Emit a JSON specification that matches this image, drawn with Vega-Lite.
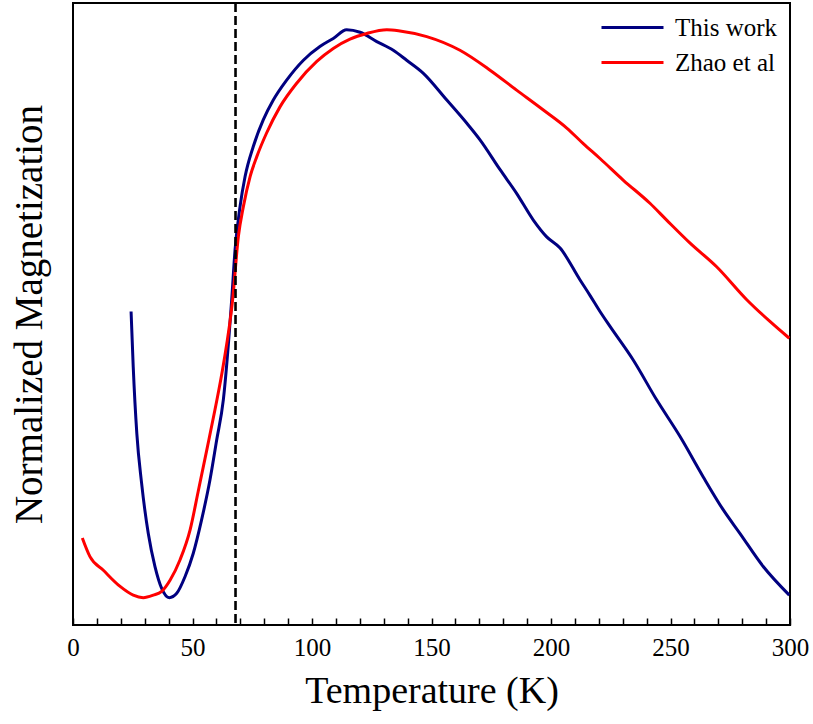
{
  "$schema": "https://vega.github.io/schema/vega-lite/v6.json",
  "width": 717,
  "height": 622,
  "autosize": {"type": "none"},
  "padding": {"left": 73, "top": 3, "right": 23, "bottom": 99},
  "background": "white",
  "config": {
    "view": {"stroke": "black", "strokeWidth": 2},
    "font": "Liberation Serif",
    "axis": {"grid": false, "labelFont": "Liberation Serif", "titleFont": "Liberation Serif"},
    "legend": {"labelFont": "Liberation Serif"}
  },
  "datasets": {
    "curves": [
      {"s": "This work", "T": 24.3, "M": 0.504},
      {"s": "This work", "T": 25.2, "M": 0.415},
      {"s": "This work", "T": 26.7, "M": 0.308},
      {"s": "This work", "T": 28.7, "M": 0.228},
      {"s": "This work", "T": 31.5, "M": 0.147},
      {"s": "This work", "T": 34.3, "M": 0.094},
      {"s": "This work", "T": 37.1, "M": 0.059},
      {"s": "This work", "T": 40.3, "M": 0.044},
      {"s": "This work", "T": 43.4, "M": 0.051},
      {"s": "This work", "T": 46.9, "M": 0.078},
      {"s": "This work", "T": 50.3, "M": 0.115},
      {"s": "This work", "T": 53.8, "M": 0.169},
      {"s": "This work", "T": 57.3, "M": 0.233},
      {"s": "This work", "T": 60.1, "M": 0.297},
      {"s": "This work", "T": 62.9, "M": 0.362},
      {"s": "This work", "T": 66.4, "M": 0.523},
      {"s": "This work", "T": 67.8, "M": 0.603},
      {"s": "This work", "T": 69.9, "M": 0.673},
      {"s": "This work", "T": 72.0, "M": 0.721},
      {"s": "This work", "T": 75.4, "M": 0.769},
      {"s": "This work", "T": 79.6, "M": 0.812},
      {"s": "This work", "T": 83.8, "M": 0.844},
      {"s": "This work", "T": 89.4, "M": 0.876},
      {"s": "This work", "T": 96.4, "M": 0.908},
      {"s": "This work", "T": 103.3, "M": 0.930},
      {"s": "This work", "T": 108.9, "M": 0.943},
      {"s": "This work", "T": 114.5, "M": 0.957},
      {"s": "This work", "T": 120.1, "M": 0.953},
      {"s": "This work", "T": 127.1, "M": 0.938},
      {"s": "This work", "T": 134.0, "M": 0.924},
      {"s": "This work", "T": 139.6, "M": 0.908},
      {"s": "This work", "T": 146.6, "M": 0.887},
      {"s": "This work", "T": 156.4, "M": 0.844},
      {"s": "This work", "T": 164.7, "M": 0.807},
      {"s": "This work", "T": 170.3, "M": 0.780},
      {"s": "This work", "T": 178.7, "M": 0.732},
      {"s": "This work", "T": 185.6, "M": 0.694},
      {"s": "This work", "T": 192.6, "M": 0.651},
      {"s": "This work", "T": 198.2, "M": 0.624},
      {"s": "This work", "T": 203.8, "M": 0.606},
      {"s": "This work", "T": 212.1, "M": 0.555},
      {"s": "This work", "T": 216.3, "M": 0.530},
      {"s": "This work", "T": 220.5, "M": 0.504},
      {"s": "This work", "T": 224.7, "M": 0.480},
      {"s": "This work", "T": 234.4, "M": 0.426},
      {"s": "This work", "T": 244.2, "M": 0.362},
      {"s": "This work", "T": 254.0, "M": 0.303},
      {"s": "This work", "T": 263.7, "M": 0.238},
      {"s": "This work", "T": 272.1, "M": 0.185},
      {"s": "This work", "T": 279.1, "M": 0.147},
      {"s": "This work", "T": 288.8, "M": 0.094},
      {"s": "This work", "T": 299.7, "M": 0.048},
      {"s": "Zhao et al", "T": 3.9, "M": 0.140},
      {"s": "Zhao et al", "T": 7.1, "M": 0.110},
      {"s": "Zhao et al", "T": 12.7, "M": 0.088},
      {"s": "Zhao et al", "T": 19.7, "M": 0.062},
      {"s": "Zhao et al", "T": 25.2, "M": 0.048},
      {"s": "Zhao et al", "T": 29.4, "M": 0.044},
      {"s": "Zhao et al", "T": 33.6, "M": 0.048},
      {"s": "Zhao et al", "T": 37.1, "M": 0.054},
      {"s": "Zhao et al", "T": 40.6, "M": 0.072},
      {"s": "Zhao et al", "T": 44.8, "M": 0.105},
      {"s": "Zhao et al", "T": 49.0, "M": 0.153},
      {"s": "Zhao et al", "T": 52.4, "M": 0.215},
      {"s": "Zhao et al", "T": 55.9, "M": 0.280},
      {"s": "Zhao et al", "T": 59.4, "M": 0.346},
      {"s": "Zhao et al", "T": 62.9, "M": 0.418},
      {"s": "Zhao et al", "T": 66.8, "M": 0.523},
      {"s": "Zhao et al", "T": 69.2, "M": 0.625},
      {"s": "Zhao et al", "T": 71.3, "M": 0.673},
      {"s": "Zhao et al", "T": 74.1, "M": 0.721},
      {"s": "Zhao et al", "T": 76.9, "M": 0.753},
      {"s": "Zhao et al", "T": 81.0, "M": 0.791},
      {"s": "Zhao et al", "T": 86.6, "M": 0.833},
      {"s": "Zhao et al", "T": 93.6, "M": 0.871},
      {"s": "Zhao et al", "T": 102.0, "M": 0.906},
      {"s": "Zhao et al", "T": 108.9, "M": 0.927},
      {"s": "Zhao et al", "T": 115.9, "M": 0.942},
      {"s": "Zhao et al", "T": 122.9, "M": 0.951},
      {"s": "Zhao et al", "T": 131.3, "M": 0.957},
      {"s": "Zhao et al", "T": 136.8, "M": 0.955},
      {"s": "Zhao et al", "T": 148.0, "M": 0.946},
      {"s": "Zhao et al", "T": 161.9, "M": 0.924},
      {"s": "Zhao et al", "T": 174.5, "M": 0.892},
      {"s": "Zhao et al", "T": 185.6, "M": 0.860},
      {"s": "Zhao et al", "T": 196.8, "M": 0.828},
      {"s": "Zhao et al", "T": 206.6, "M": 0.799},
      {"s": "Zhao et al", "T": 213.5, "M": 0.774},
      {"s": "Zhao et al", "T": 220.5, "M": 0.750},
      {"s": "Zhao et al", "T": 230.3, "M": 0.715},
      {"s": "Zhao et al", "T": 241.4, "M": 0.678},
      {"s": "Zhao et al", "T": 248.4, "M": 0.651},
      {"s": "Zhao et al", "T": 258.2, "M": 0.614},
      {"s": "Zhao et al", "T": 269.3, "M": 0.576},
      {"s": "Zhao et al", "T": 281.9, "M": 0.523},
      {"s": "Zhao et al", "T": 291.6, "M": 0.488},
      {"s": "Zhao et al", "T": 299.7, "M": 0.461}
    ],
    "marker": [{"T": 68}]
  },
  "encoding": {
    "x": {
      "field": "T",
      "type": "quantitative",
      "scale": {"domain": [0, 300], "nice": false},
      "axis": {
        "values": [0,10,20,30,40,50,60,70,80,90,100,110,120,130,140,150,160,170,180,190,200,210,220,230,240,250,260,270,280,290,300],
        "labelExpr": "datum.value % 50 === 0 ? datum.label : ''",
        "labelOverlap": false,
        "labelFlush": false,
        "domain": false,
        "offset": -7,
        "ticks": true,
        "tickSize": 7,
        "tickWidth": 1.5,
        "tickColor": "black",
        "tickOpacity": 1,
        "zindex": 2,
        "labelFontSize": 25,
        "labelColor": "black",
        "labelPadding": 10,
        "labelFont": "Liberation Serif",
        "title": "Temperature (K)",
        "titleFont": "Liberation Serif",
        "titleFontSize": 38,
        "titleFontWeight": "normal",
        "titleColor": "black",
        "titlePadding": 12
      }
    }
  },
  "layer": [
    {
      "data": {"name": "curves"},
      "mark": {"type": "line", "strokeWidth": 3, "interpolate": "monotone"},
      "encoding": {
        "y": {
          "field": "M",
          "type": "quantitative",
          "scale": {"domain": [0, 1], "nice": false},
          "axis": {
            "labels": false,
            "ticks": false,
            "domain": false,
            "title": "Normalized Magnetization",
            "titleFont": "Liberation Serif",
            "titleFontSize": 39,
            "titleFontWeight": "normal",
            "titleColor": "black",
            "titlePadding": 24
          }
        },
        "color": {
          "field": "s",
          "type": "nominal",
          "scale": {"domain": ["This work", "Zhao et al"], "range": ["#000080", "#ff0000"]},
          "legend": {
            "title": null,
            "orient": "top-right",
            "offset": 12,
            "padding": 0,
            "symbolType": "M-1,0H11.4",
            "symbolSize": 100,
            "symbolStrokeWidth": 3,
            "labelFont": "Liberation Serif",
            "labelFontSize": 25,
            "labelColor": "black",
            "labelOffset": 56,
            "labelLimit": 400,
            "rowPadding": 9
          }
        }
      }
    },
    {
      "data": {"name": "marker"},
      "mark": {"type": "rule", "color": "black", "strokeWidth": 2.6, "strokeDash": [9, 4]},
      "encoding": {}
    }
  ]
}
